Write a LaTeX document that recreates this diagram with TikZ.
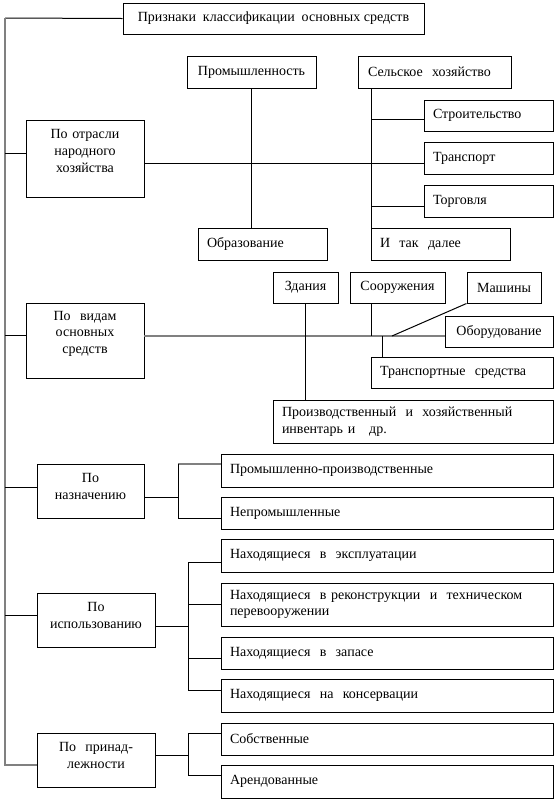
\documentclass[tikz,border=0pt]{standalone}
\usepackage{fontspec}
\setmainfont{Liberation Serif}
\newcommand\dsp{\ \ }
% centred box: [opts]{name}{x1}{y1}{x2}{y2}{text}
\newcommand\cbx[7][]{%
  \pgfmathsetlengthmacro\bw{(#5-#3)*0.75pt}%
  \pgfmathsetlengthmacro\bh{(#6-#4)*0.75pt}%
  \node[box, align=center, minimum width=\bw, minimum height=\bh, #1] (#2) at ({(#3+#5)/2},{(#4+#6)/2}) {#7};}
% centred multi-line box with text width
\newcommand\mbx[7][]{%
  \pgfmathsetlengthmacro\bw{(#5-#3)*0.75pt}%
  \pgfmathsetlengthmacro\tw{(#5-#3-4)*0.75pt}%
  \pgfmathsetlengthmacro\bh{(#6-#4)*0.75pt}%
  \node[box, align=center, inner xsep=1.5pt, text width=\tw, minimum width=\bw, minimum height=\bh, #1] (#2) at ({(#3+#5)/2},{(#4+#6)/2}) {#7};}
% left aligned box
\newcommand\lbx[7][]{%
  \pgfmathsetlengthmacro\tw{(#5-#3-18)*0.75pt}%
  \pgfmathsetlengthmacro\bh{(#6-#4)*0.75pt}%
  \node[box, align=left, inner xsep=6.75pt, text width=\tw, minimum height=\bh, #1] (#2) at ({(#3+#5)/2},{(#4+#6)/2}) {#7};}
\newcommand\liftbox[1]{\endgraf\vspace*{#1}}
\begin{document}
\begin{tikzpicture}[x=0.75pt,y=-0.75pt,
  font=\fontsize{10.5}{12.6}\selectfont,
  box/.style={draw, line width=0.75pt, inner ysep=0pt, rectangle},
  ln/.style={line width=0.75pt, draw=black},
  gl/.style={line width=1.1pt, draw=black!50},
  lift/.style={execute at end node={\liftbox{#1}}}]
\useasboundingbox (0,0) rectangle (557,801);
% --- boxes ---
\cbx{title}{123}{3}{424}{34}{Признаки\dsp классификации\dsp основных средств}
\cbx{prom}{187}{56}{316}{88}{Промышленность}
\lbx[inner xsep=7.5pt]{selsk}{359}{56}{510}{88}{Сельское\dsp хозяйство}
\lbx{stroit}{424}{100}{553}{131}{Строительство}
\lbx{transp}{424}{142}{553}{174}{Транспорт}
\lbx{torg}{424}{185}{553}{217}{Торговля}
\lbx{obraz}{198}{228}{327}{260}{Образование}
\lbx{itak}{371}{228}{510}{260}{И\dsp так\dsp далее}
\mbx[lift=11pt]{otrasl}{26}{120}{144}{197}{По отрасли\\народного\\хозяйства}
\mbx[lift=10pt]{vidy}{26}{303}{144}{378}{По\dsp видам\\основных\\средств}
\cbx{zdan}{273}{272}{338}{303}{Здания}
\cbx{sooruzh}{350}{272}{445}{303}{Сооружения}
\cbx{mash}{467}{272}{541}{303}{Машины}
\cbx{obor}{445}{316}{553}{347}{Оборудование}
\lbx{transsr}{371}{357}{553}{388}{Транспортные\dsp средства}
\lbx{proizv}{273}{400}{553}{443}{Производственный\dsp и\dsp хозяйственный\\инвентарь и\dsp\ др.}
\mbx[lift=7pt]{naznach}{37}{464}{144}{518}{По\\назначению}
\lbx{prompr}{221}{454}{553}{487}{Промышленно-производственные}
\lbx{neprom}{221}{497}{553}{529}{Непромышленные}
\mbx[lift=7pt]{ispolz}{37}{593}{155}{647}{По\\использованию}
\lbx{ekspl}{221}{539}{553}{572}{Находящиеся\dsp в\dsp эксплуатации}
\lbx{rekon}{221}{583}{553}{626}{Находящиеся\dsp в реконструкции\dsp и\dsp техническом\\перевооружении}
\lbx{zapas}{221}{637}{553}{669}{Находящиеся\dsp в\dsp запасе}
\lbx{konserv}{221}{679}{553}{712}{Находящиеся\dsp на\dsp консервации}
\mbx[lift=7pt]{prinad}{37}{733}{155}{787}{По\dsp принад-\\лежности}
\lbx{sobstv}{221}{723}{553}{755}{Собственные}
\lbx{arend}{221}{765}{553}{798}{Арендованные}
% --- spine ---
\coordinate (sTop) at (5,18);
\coordinate (sBot) at (5,765);
\draw[ln] (sTop) -- (title.west);
\draw[gl] (sTop) -- (sBot) -- (sBot -| prinad.west);
\coordinate (e1) at (26,153);
\coordinate (e2) at (26,335);
\coordinate (e3) at (37,487);
\coordinate (e4) at (37,615);
\foreach \e in {e1,e2,e3,e4} \draw[ln] (\e -| sTop) -- (\e);
% --- otrasl ---
\coordinate (o1) at (144,163);
\draw[ln] (o1) -- (o1 -| transp.west);
\draw[ln] (prom.south) -- (prom.south |- obraz.north);
\coordinate (sv) at (371,88);
\draw[ln] (sv) -- (sv |- itak.north);
\coordinate (sb1) at (371,119);
\coordinate (sb2) at (371,206);
\draw[ln] (sb1) -- (sb1 -| stroit.west);
\draw[ln] (sb2) -- (sb2 -| torg.west);
% --- vidy ---
\coordinate (v1) at (144,336);
\draw[gl] (v1) -- (v1 -| obor.west);
\draw[ln] (zdan.south) -- (zdan.south |- proizv.north);
\coordinate (c1) at (371,303);
\draw[ln] (c1) -- (c1 |- v1);
\coordinate (c2) at (392,336);
\draw[ln] (mash.south west) -- (c2);
\coordinate (c3) at (382,336);
\draw[ln] (c3) -- (c3 |- transsr.north);
% --- naznach ---
\coordinate (n0) at (144,497);
\coordinate (n1) at (178,464);
\coordinate (n2) at (178,518);
\draw[ln] (n0) -- (n0 -| n1);
\draw[gl] (n1) -- (n1 -| prompr.west);
\draw[ln] (n1) -- (n2) -- (n2 -| neprom.west);
% --- ispolz ---
\coordinate (i0) at (155,626);
\coordinate (i1) at (188,562);
\coordinate (i2) at (188,604);
\coordinate (i3) at (188,658);
\coordinate (i4) at (188,690);
\draw[ln] (i0) -- (i0 -| i1);
\draw[ln] (i1) -- (i4);
\draw[ln] (i1) -- (i1 -| ekspl.west);
\draw[ln] (i2) -- (i2 -| rekon.west);
\draw[ln] (i3) -- (i3 -| zapas.west);
\draw[ln] (i4) -- (i4 -| konserv.west);
% --- prinad ---
\coordinate (p0) at (155,755);
\coordinate (p1) at (188,733);
\coordinate (p2) at (188,775);
\draw[ln] (p0) -- (p0 -| p1);
\draw[ln] (p1) -- (p2);
\draw[ln] (p1) -- (p1 -| sobstv.west);
\draw[ln] (p2) -- (p2 -| arend.west);
\end{tikzpicture}
\end{document}
